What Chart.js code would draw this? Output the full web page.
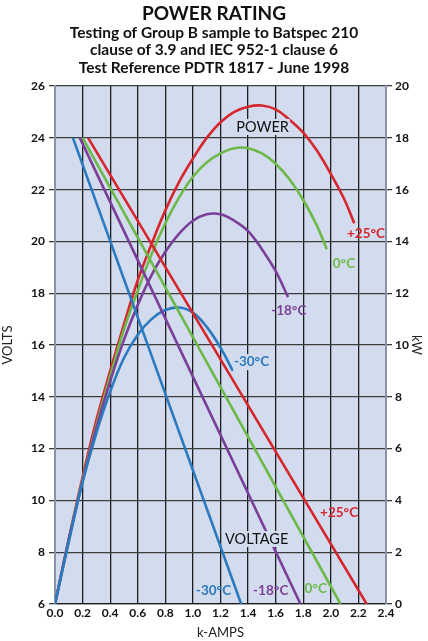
<!DOCTYPE html>
<html>
<head>
<meta charset="utf-8">
<script src="https://cdn.jsdelivr.net/npm/chart.js@4.4.1/dist/chart.umd.min.js"></script>
<style>
  html, body { margin: 0; padding: 0; background: #fff; }
  #wrap { width: 428px; height: 641px; }
</style>
</head>
<body>
<div id="wrap"><canvas id="powerChart" width="428" height="641"></canvas></div>
<script>
// Axis ticks
const ampTicks = [0.0, 0.2, 0.4, 0.6, 0.8, 1.0, 1.2, 1.4, 1.6, 1.8, 2.0, 2.2, 2.4];
const voltTicks = [6, 8, 10, 12, 14, 16, 18, 20, 22, 24, 26];
const kwTicks = [0, 2, 4, 6, 8, 10, 12, 14, 16, 18, 20];

// Voltage lines (k-AMPS -> VOLTS)
const voltAmps30 = [0.13, 1.35];
const voltAmps18 = [0.18, 1.78];
const voltAmps0 = [0.20, 2.07];
const voltAmps25 = [0.24, 2.26];
const voltValues = [24, 6];

// Power curves (k-AMPS -> kW)
const powAmps25 = [0, 0.1, 0.2, 0.3, 0.4, 0.5, 0.6, 0.7, 0.8, 0.9, 1.0, 1.1, 1.2, 1.3, 1.4, 1.5, 1.6, 1.7, 1.8, 1.9, 2.0, 2.1, 2.17];
const powKw25 = [0, 2.5, 4.9, 7.1, 9.0, 10.8, 12.5, 13.9, 15.2, 16.3, 17.2, 18.0, 18.6, 19.0, 19.2, 19.25, 19.1, 18.7, 18.2, 17.5, 16.6, 15.6, 14.7];
const powAmps0 = [0, 0.1, 0.2, 0.3, 0.4, 0.5, 0.6, 0.7, 0.8, 0.9, 1.0, 1.1, 1.2, 1.3, 1.4, 1.5, 1.6, 1.7, 1.8, 1.9, 1.97];
const powKw0 = [0, 2.5, 4.8, 6.9, 8.8, 10.6, 12.1, 13.5, 14.7, 15.7, 16.5, 17.05, 17.4, 17.6, 17.6, 17.4, 17.0, 16.4, 15.6, 14.6, 13.7];
const powAmps18 = [0, 0.1, 0.2, 0.3, 0.4, 0.5, 0.6, 0.7, 0.8, 0.9, 1.0, 1.1, 1.2, 1.3, 1.4, 1.5, 1.6, 1.69];
const powKw18 = [0, 2.5, 4.75, 6.8, 8.6, 10.2, 11.55, 12.7, 13.6, 14.3, 14.8, 15.05, 15.05, 14.8, 14.4, 13.7, 12.85, 11.85];
const powAmps30 = [0, 0.1, 0.2, 0.3, 0.4, 0.5, 0.6, 0.7, 0.8, 0.9, 1.0, 1.1, 1.2, 1.29];
const powKw30 = [0, 2.4, 4.7, 6.6, 8.2, 9.5, 10.4, 11.0, 11.35, 11.45, 11.25, 10.7, 9.9, 9.0];

// Colours
const RED = "#d6262e";
const GREEN = "#6cb94a";
const PURPLE = "#7a3f98";
const BLUE = "#2b79bf";
const PLOT_BG = "#d3dcee";
const FONT = "Lato, 'DejaVu Sans', sans-serif";

// Curve labels: text, colour, k-AMPS, VOLTS position, boxed?
const curveLabels = [
    { text: "POWER", color: "#111", x: 1.505, y: 24.42, bold: false, box: true },
    { text: "+25°C", color: RED, x: 2.255, y: 20.29, bold: true },
    { text: "0°C", color: GREEN, x: 2.095, y: 19.13, bold: true },
    { text: "-18°C", color: PURPLE, x: 1.695, y: 17.31, bold: true },
    { text: "-30°C", color: BLUE, x: 1.425, y: 15.34, bold: true, box: true },
    { text: "+25°C", color: RED, x: 2.06, y: 9.51, bold: true },
    { text: "VOLTAGE", color: "#111", x: 1.462, y: 8.51, bold: false, box: true },
    { text: "-30°C", color: BLUE, x: 1.149, y: 6.5, bold: true },
    { text: "-18°C", color: PURPLE, x: 1.564, y: 6.5, bold: true },
    { text: "0°C", color: GREEN, x: 1.89, y: 6.58, bold: true },
];

function toPoints(xs, ys) {
    return xs.map((x, i) => ({ x: x, y: ys[i] }));
}

function lineSet(xs, ys, color, axis) {
    return {
        data: toPoints(xs, ys),
        borderColor: color,
        borderWidth: 2.6,
        pointRadius: 0,
        fill: false,
        tension: 0.4,
        yAxisID: axis,
    };
}

// Fill plot area with the pale blue background
const plotBackground = {
    id: "plotBackground",
    beforeDraw(chart) {
        const { ctx, chartArea } = chart;
        ctx.save();
        ctx.fillStyle = PLOT_BG;
        ctx.fillRect(chartArea.left, chartArea.top, chartArea.right - chartArea.left, chartArea.bottom - chartArea.top);
        ctx.restore();
    }
};

// Draw the curve labels on top of the lines
const curveLabelPlugin = {
    id: "curveLabels",
    afterDatasetsDraw(chart) {
        const { ctx } = chart;
        const xs = chart.scales.x;
        const ys = chart.scales.y;
        ctx.save();
        ctx.textAlign = "center";
        ctx.textBaseline = "middle";
        curveLabels.forEach(lab => {
            const px = xs.getPixelForValue(lab.x);
            const py = ys.getPixelForValue(lab.y);
            ctx.font = (lab.bold ? "bold 13.5px " : "14.5px ") + FONT;
            if (lab.box) {
                const w = ctx.measureText(lab.text).width;
                ctx.fillStyle = PLOT_BG;
                ctx.fillRect(px - w / 2 - 1, py - 8, w + 2, 16);
            }
            ctx.fillStyle = lab.color;
            ctx.fillText(lab.text, px, py);
        });
        ctx.restore();
    }
};

const tickFont = { family: FONT, size: 12, weight: "bold" };
const titleFont = { family: FONT, size: 13 };

const ctx = document.getElementById("powerChart").getContext("2d");
new Chart(ctx, {
    type: "line",
    data: {
        datasets: [
            lineSet(voltAmps30, voltValues, BLUE, "y"),
            lineSet(voltAmps18, voltValues, PURPLE, "y"),
            lineSet(voltAmps0, voltValues, GREEN, "y"),
            lineSet(voltAmps25, voltValues, RED, "y"),
            lineSet(powAmps30, powKw30, BLUE, "y1"),
            lineSet(powAmps18, powKw18, PURPLE, "y1"),
            lineSet(powAmps0, powKw0, GREEN, "y1"),
            lineSet(powAmps25, powKw25, RED, "y1"),
        ]
    },
    options: {
        responsive: false,
        animation: false,
        layout: { padding: 0 },
        plugins: {
            legend: { display: false },
            tooltip: { enabled: false },
            title: {
                display: true,
                text: "POWER RATING",
                color: "#111",
                font: { family: FONT, size: 19, weight: "bold", lineHeight: 1.0 },
                padding: { top: 4, bottom: 0 }
            },
            subtitle: {
                display: true,
                text: [
                    "Testing of Group B sample to Batspec 210",
                    "clause of 3.9 and IEC 952-1 clause 6",
                    "Test Reference PDTR 1817 - June 1998"
                ],
                color: "#111",
                font: { family: FONT, size: 15.5, weight: "bold", lineHeight: 1.13 },
                padding: { top: 1, bottom: 9.5 }
            }
        },
        scales: {
            x: {
                type: "linear",
                min: 0,
                max: 2.4,
                afterBuildTicks: s => { s.ticks = ampTicks.map(v => ({ value: v })); },
                afterFit: s => { s.height = 37; },
                ticks: {
                    color: "#111",
                    font: tickFont,
                    padding: 2,
                    maxRotation: 0,
                    callback: v => Number(v).toFixed(1)
                },
                grid: { color: "#1e1e1e", lineWidth: 1.3, drawTicks: false },
                border: { color: "#1e1e1e", width: 1.3 },
                title: { display: true, text: "k-AMPS", color: "#222", font: titleFont, padding: { top: 1, bottom: 0 } }
            },
            y: {
                position: "left",
                min: 6,
                max: 26,
                afterBuildTicks: s => { s.ticks = voltTicks.map(v => ({ value: v })); },
                afterFit: s => { s.width = 55; },
                ticks: { color: "#111", font: tickFont, padding: 4 },
                grid: { color: "#3c3c3c", lineWidth: 1.3, tickLength: 6 },
                border: { color: "#8a93a6", width: 2 },
                title: { display: true, text: "VOLTS", color: "#222", font: titleFont, padding: { top: 0, bottom: 4 } }
            },
            y1: {
                position: "right",
                min: 0,
                max: 20,
                afterBuildTicks: s => { s.ticks = kwTicks.map(v => ({ value: v })); },
                afterFit: s => { s.width = 42; },
                ticks: { color: "#111", font: tickFont, padding: 3 },
                grid: { drawOnChartArea: false, color: "#3c3c3c", lineWidth: 1.3, tickLength: 6 },
                border: { color: "#8a93a6", width: 2 },
                title: { display: true, text: "kW", color: "#222", font: titleFont, padding: { top: 4, bottom: 0 } }
            }
        }
    },
    plugins: [plotBackground, curveLabelPlugin]
});
</script>
</body>
</html>
